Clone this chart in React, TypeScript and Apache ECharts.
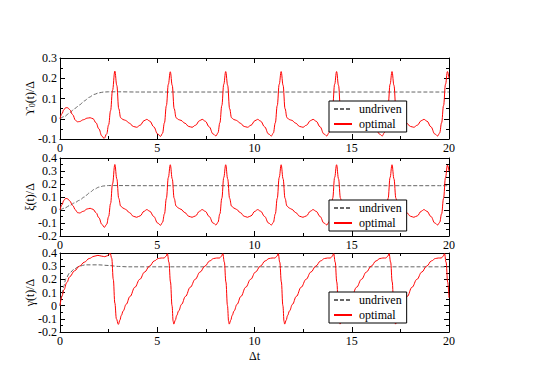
import React, { useEffect, useRef } from "react";
import * as echarts from "echarts";

// ---------------- data ----------------
const xRange = [0, 20];
const xInterval = 5;
const yRanges: [number, number][] = [
  [-0.1, 0.3],
  [-0.2, 0.4],
  [-0.2, 0.4],
];
const yInterval = 0.1;
const seriesNames = ["undriven", "optimal"];
const xName = "Δt";

// panel 1: Υ0(t)/Δ
const upsilonUndriven: [number, number][] = [
  [0, 0], [0.25, 0.012], [0.5, 0.03], [0.75, 0.05], [1.0, 0.068], [1.25, 0.088],
  [1.5, 0.106], [1.75, 0.12], [2.0, 0.128], [2.25, 0.132], [2.5, 0.133], [3.0, 0.133],
  [4.0, 0.132], [20, 0.132],
];
const upsilonOptimal: [number, number][] = [
  [0, 0], [0.1, 0.025], [0.2, 0.045], [0.3, 0.055], [0.4, 0.054], [0.5, 0.045], [0.65, 0.02],
  [0.8, -0.008], [0.9, -0.015], [1.0, -0.014], [1.2, -0.005], [1.4, 0.003], [1.55, 0.005],
  [1.7, 0.0], [1.85, -0.02], [2.0, -0.05], [2.15, -0.085], [2.27, -0.097], [2.4, -0.075],
  [2.5, -0.03], [2.6, 0.04], [2.7, 0.14], [2.82, 0.235],
  [2.92, 0.165], [3.02, 0.05], [3.12, 0.005], [3.24, -0.004], [3.37, -0.008], [3.57, -0.022],
  [3.77, -0.038], [3.94, -0.042], [4.12, -0.032], [4.32, -0.01], [4.46, -0.003], [4.62, -0.012],
  [4.82, -0.04], [5.02, -0.075], [5.17, -0.087], [5.27, -0.072], [5.37, -0.02], [5.47, 0.065],
  [5.57, 0.17], [5.67, 0.232],
  [5.77, 0.165], [5.87, 0.05], [5.97, 0.005], [6.09, -0.004], [6.22, -0.008], [6.42, -0.022],
  [6.62, -0.038], [6.79, -0.042], [6.97, -0.032], [7.17, -0.01], [7.31, -0.003], [7.47, -0.012],
  [7.67, -0.04], [7.87, -0.075], [8.02, -0.085], [8.12, -0.07], [8.22, -0.02], [8.32, 0.065],
  [8.42, 0.17], [8.52, 0.233],
  [8.62, 0.165], [8.72, 0.05], [8.82, 0.005], [8.94, -0.004], [9.07, -0.008], [9.27, -0.022],
  [9.47, -0.038], [9.64, -0.042], [9.82, -0.032], [10.02, -0.01], [10.16, -0.003], [10.32, -0.012],
  [10.52, -0.04], [10.72, -0.075], [10.87, -0.085], [10.97, -0.07], [11.07, -0.02], [11.17, 0.065],
  [11.27, 0.17], [11.37, 0.233],
  [11.47, 0.165], [11.57, 0.05], [11.67, 0.005], [11.79, -0.004], [11.92, -0.008], [12.12, -0.022],
  [12.32, -0.038], [12.49, -0.042], [12.67, -0.032], [12.87, -0.01], [13.01, -0.003], [13.17, -0.012],
  [13.37, -0.04], [13.57, -0.075], [13.72, -0.085], [13.82, -0.07], [13.92, -0.02], [14.02, 0.065],
  [14.12, 0.17], [14.22, 0.233],
  [14.32, 0.165], [14.42, 0.05], [14.52, 0.005], [14.64, -0.004], [14.77, -0.008], [14.97, -0.022],
  [15.17, -0.038], [15.34, -0.042], [15.52, -0.032], [15.72, -0.01], [15.86, -0.003], [16.02, -0.012],
  [16.22, -0.04], [16.42, -0.075], [16.57, -0.085], [16.67, -0.07], [16.77, -0.02], [16.87, 0.065],
  [16.97, 0.17], [17.07, 0.233],
  [17.17, 0.165], [17.27, 0.05], [17.37, 0.005], [17.49, -0.004], [17.62, -0.008], [17.82, -0.022],
  [18.02, -0.038], [18.19, -0.042], [18.37, -0.032], [18.57, -0.01], [18.71, -0.003], [18.87, -0.012],
  [19.07, -0.04], [19.27, -0.075], [19.42, -0.085], [19.52, -0.07], [19.62, -0.02], [19.72, 0.065],
  [19.82, 0.17], [19.92, 0.233], [20, 0.2],
];

// panel 2: ξ(t)/Δ
const xiUndriven: [number, number][] = [
  [0, 0], [0.25, 0.015], [0.5, 0.035], [0.75, 0.055], [1.0, 0.075], [1.25, 0.1],
  [1.5, 0.13], [1.75, 0.158], [2.0, 0.176], [2.25, 0.185], [2.5, 0.188], [3.0, 0.188],
  [4.0, 0.187], [20, 0.187],
];
const xiOptimal: [number, number][] = [
  [0, 0], [0.1, 0.04], [0.2, 0.075], [0.3, 0.09], [0.4, 0.085], [0.5, 0.07], [0.65, 0.035],
  [0.8, 0.0], [0.9, -0.02], [1.0, -0.023], [1.2, -0.01], [1.4, 0.008], [1.55, 0.013],
  [1.7, 0.005], [1.85, -0.02], [2.0, -0.06], [2.15, -0.11], [2.28, -0.133], [2.4, -0.11],
  [2.5, -0.05], [2.6, 0.05], [2.7, 0.2], [2.82, 0.35],
  [2.92, 0.24], [3.02, 0.09], [3.12, 0.03], [3.24, 0.015], [3.37, 0.005], [3.57, -0.02],
  [3.77, -0.048], [3.94, -0.056], [4.12, -0.045], [4.32, -0.01], [4.46, 0.003], [4.62, -0.01],
  [4.82, -0.05], [5.02, -0.1], [5.17, -0.117], [5.27, -0.095], [5.37, -0.03], [5.47, 0.09],
  [5.57, 0.25], [5.67, 0.348],
  [5.77, 0.24], [5.87, 0.09], [5.97, 0.03], [6.09, 0.015], [6.22, 0.005], [6.42, -0.02],
  [6.62, -0.048], [6.79, -0.056], [6.97, -0.045], [7.17, -0.01], [7.31, 0.003], [7.47, -0.01],
  [7.67, -0.05], [7.87, -0.1], [8.02, -0.115], [8.12, -0.095], [8.22, -0.03], [8.32, 0.09],
  [8.42, 0.25], [8.52, 0.348],
  [8.62, 0.24], [8.72, 0.09], [8.82, 0.03], [8.94, 0.015], [9.07, 0.005], [9.27, -0.02],
  [9.47, -0.048], [9.64, -0.056], [9.82, -0.045], [10.02, -0.01], [10.16, 0.003], [10.32, -0.01],
  [10.52, -0.05], [10.72, -0.1], [10.87, -0.115], [10.97, -0.095], [11.07, -0.03], [11.17, 0.09],
  [11.27, 0.25], [11.37, 0.348],
  [11.47, 0.24], [11.57, 0.09], [11.67, 0.03], [11.79, 0.015], [11.92, 0.005], [12.12, -0.02],
  [12.32, -0.048], [12.49, -0.056], [12.67, -0.045], [12.87, -0.01], [13.01, 0.003], [13.17, -0.01],
  [13.37, -0.05], [13.57, -0.1], [13.72, -0.115], [13.82, -0.095], [13.92, -0.03], [14.02, 0.09],
  [14.12, 0.25], [14.22, 0.348],
  [14.32, 0.24], [14.42, 0.09], [14.52, 0.03], [14.64, 0.015], [14.77, 0.005], [14.97, -0.02],
  [15.17, -0.048], [15.34, -0.056], [15.52, -0.045], [15.72, -0.01], [15.86, 0.003], [16.02, -0.01],
  [16.22, -0.05], [16.42, -0.1], [16.57, -0.115], [16.67, -0.095], [16.77, -0.03], [16.87, 0.09],
  [16.97, 0.25], [17.07, 0.348],
  [17.17, 0.24], [17.27, 0.09], [17.37, 0.03], [17.49, 0.015], [17.62, 0.005], [17.82, -0.02],
  [18.02, -0.048], [18.19, -0.056], [18.37, -0.045], [18.57, -0.01], [18.71, 0.003], [18.87, -0.01],
  [19.07, -0.05], [19.27, -0.1], [19.42, -0.115], [19.52, -0.095], [19.62, -0.03], [19.72, 0.09],
  [19.82, 0.25], [19.92, 0.345], [20, 0.3],
];

// panel 3: γ(t)/Δ
const gammaUndriven: [number, number][] = [
  [0, 0], [0.1, 0.08], [0.2, 0.15], [0.3, 0.205], [0.5, 0.25], [0.75, 0.28], [1.0, 0.3],
  [1.3, 0.31], [2.0, 0.31], [2.5, 0.305], [3.0, 0.298], [3.5, 0.295], [20, 0.295],
];
const gammaOptimal: [number, number][] = [
  [0, 0], [0.1, 0.07], [0.2, 0.12], [0.35, 0.175], [0.5, 0.22], [0.75, 0.265], [1.0, 0.3],
  [1.25, 0.33], [1.5, 0.358], [1.75, 0.375], [1.95, 0.382], [2.15, 0.376], [2.3, 0.372],
  [2.45, 0.38], [2.58, 0.398], [2.66, 0.36], [2.74, 0.2], [2.82, 0.02], [2.9, -0.1], [3.0, -0.142],
  [3.08, -0.11], [3.15, -0.075], [3.25, -0.04], [3.4, 0.01], [3.6, 0.07], [3.85, 0.14],
  [4.1, 0.2], [4.35, 0.255], [4.6, 0.3], [4.85, 0.34], [5.05, 0.358], [5.2, 0.362], [5.35, 0.362],
  [5.45, 0.375], [5.52, 0.395], [5.6, 0.33], [5.68, 0.18], [5.76, 0.0], [5.82, -0.12], [5.85, -0.14],
  [5.93, -0.11], [6.0, -0.075], [6.1, -0.04], [6.25, 0.01], [6.45, 0.07], [6.7, 0.14],
  [6.95, 0.2], [7.2, 0.255], [7.45, 0.3], [7.7, 0.34], [7.9, 0.358], [8.05, 0.362], [8.2, 0.362],
  [8.3, 0.375], [8.37, 0.395], [8.45, 0.33], [8.53, 0.18], [8.61, 0.0], [8.67, -0.12], [8.7, -0.14],
  [8.78, -0.11], [8.85, -0.075], [8.95, -0.04], [9.1, 0.01], [9.3, 0.07], [9.55, 0.14],
  [9.8, 0.2], [10.05, 0.255], [10.3, 0.3], [10.55, 0.34], [10.75, 0.358], [10.9, 0.362], [11.05, 0.362],
  [11.15, 0.375], [11.22, 0.395], [11.3, 0.33], [11.38, 0.18], [11.46, 0.0], [11.52, -0.12], [11.55, -0.14],
  [11.63, -0.11], [11.7, -0.075], [11.8, -0.04], [11.95, 0.01], [12.15, 0.07], [12.4, 0.14],
  [12.65, 0.2], [12.9, 0.255], [13.15, 0.3], [13.4, 0.34], [13.6, 0.358], [13.75, 0.362], [13.9, 0.362],
  [14.0, 0.375], [14.07, 0.395], [14.15, 0.33], [14.23, 0.18], [14.31, 0.0], [14.37, -0.12], [14.4, -0.14],
  [14.48, -0.11], [14.55, -0.075], [14.65, -0.04], [14.8, 0.01], [15.0, 0.07], [15.25, 0.14],
  [15.5, 0.2], [15.75, 0.255], [16.0, 0.3], [16.25, 0.34], [16.45, 0.358], [16.6, 0.362], [16.75, 0.362],
  [16.85, 0.375], [16.92, 0.395], [17.0, 0.33], [17.08, 0.18], [17.16, 0.0], [17.22, -0.12], [17.25, -0.14],
  [17.33, -0.11], [17.4, -0.075], [17.5, -0.04], [17.65, 0.01], [17.85, 0.07], [18.1, 0.14],
  [18.35, 0.2], [18.6, 0.255], [18.85, 0.3], [19.1, 0.34], [19.3, 0.358], [19.45, 0.362], [19.6, 0.362],
  [19.7, 0.375], [19.77, 0.395], [19.85, 0.33], [19.93, 0.18], [20, 0.06],
];

const panelData = [
  { name: "{n|ϒ}{s|0}{n|(t)/Δ}", undriven: upsilonUndriven, optimal: upsilonOptimal },
  { name: "{n|ξ(t)/Δ}", undriven: xiUndriven, optimal: xiOptimal },
  { name: "{n|γ(t)/Δ}", undriven: gammaUndriven, optimal: gammaOptimal },
];

// ---------------- layout / style ----------------
const FONT = "Liberation Serif";
const grids = [
  { left: 60, width: 389, top: 58, height: 81 },
  { left: 60, width: 389, top: 158, height: 78 },
  { left: 60, width: 389, top: 253, height: 79 },
];
const legendTops = [101, 200, 292];
const yNameX = 30;

export default function App() {
  const ref = useRef<HTMLDivElement>(null);

  useEffect(() => {
    if (!ref.current) return;
    const chart = echarts.init(ref.current, null, { renderer: "svg" });

    const tickCommon = {
      axisLine: { show: true, onZero: false, lineStyle: { color: "#000", width: 1 } },
      axisTick: { show: true, inside: true, length: 5, lineStyle: { color: "#000", width: 1 } },
      minorTick: { show: true, splitNumber: 2, length: 3, lineStyle: { color: "#000", width: 1 } },
      splitLine: { show: false },
      minorSplitLine: { show: false },
    };
    const labelStyle = { fontFamily: FONT, fontSize: 12, color: "#000" };

    const xAxis: any[] = [];
    const yAxis: any[] = [];
    const series: any[] = [];
    const graphic: any[] = [];

    panelData.forEach((p, i) => {
      xAxis.push({
        type: "value", gridIndex: i, min: xRange[0], max: xRange[1], interval: xInterval,
        position: "bottom", ...tickCommon,
        axisLabel: { ...labelStyle, margin: 3 },
        ...(i === 2
          ? { name: xName, nameLocation: "middle", nameGap: 18, nameTextStyle: { ...labelStyle } }
          : {}),
      });
      xAxis.push({
        type: "value", gridIndex: i, min: xRange[0], max: xRange[1], interval: xInterval,
        position: "top", ...tickCommon, axisLabel: { show: false },
      });
      yAxis.push({
        type: "value", gridIndex: i, min: yRanges[i][0], max: yRanges[i][1], interval: yInterval,
        position: "left", ...tickCommon,
        axisLabel: { ...labelStyle, margin: 3 },
      });
      yAxis.push({
        type: "value", gridIndex: i, min: yRanges[i][0], max: yRanges[i][1], interval: yInterval,
        position: "right", ...tickCommon, axisLabel: { show: false },
      });
      series.push({
        name: seriesNames[0], type: "line", xAxisIndex: 2 * i, yAxisIndex: 2 * i,
        data: p.undriven, showSymbol: false, symbol: "none", smooth: 0.3, smoothMonotone: "x",
        lineStyle: { color: "#666", width: 1, type: [4, 2] }, itemStyle: { color: "#666" },
      });
      series.push({
        name: seriesNames[1], type: "line", xAxisIndex: 2 * i, yAxisIndex: 2 * i,
        data: p.optimal, showSymbol: false, symbol: "none", smooth: 0.4, smoothMonotone: "x",
        lineStyle: { color: "#ff0000", width: 1 }, itemStyle: { color: "#ff0000" },
      });
      const g = grids[i];
      graphic.push({
        type: "text",
        x: yNameX,
        y: g.top + g.height / 2,
        rotation: Math.PI / 2,
        style: {
          text: p.name,
          align: "center",
          verticalAlign: "middle",
          fill: "#000",
          font: "12px " + FONT,
          rich: {
            n: { fontFamily: FONT, fontSize: 12, fill: "#000", color: "#000" },
            s: { fontFamily: FONT, fontSize: 8, fill: "#000", color: "#000", verticalAlign: "bottom", padding: [5, 0, 0, 0] },
          },
        },
      });
    });

    const legend = legendTops.map((top) => ({
      data: seriesNames, orient: "vertical", left: 329, top,
      padding: [2, 5, 2, 4], itemGap: 3, itemWidth: 18, itemHeight: 10,
      backgroundColor: "#fff", borderColor: "#000", borderWidth: 1, borderRadius: 0,
      selectedMode: false,
      itemStyle: { color: "rgba(0,0,0,0)", borderColor: "rgba(0,0,0,0)", borderWidth: 0, opacity: 0 },
      textStyle: { fontFamily: FONT, fontSize: 12, color: "#000", padding: [0, 0, 0, 2] },
    }));

    chart.setOption({
      animation: false,
      backgroundColor: "#fff",
      textStyle: { fontFamily: FONT },
      grid: grids,
      xAxis,
      yAxis,
      legend,
      series,
      graphic,
    });

    return () => chart.dispose();
  }, []);

  return (
    <div
      ref={ref}
      style={{ position: "absolute", left: 0, top: 0, width: 540, height: 382 }}
    />
  );
}
